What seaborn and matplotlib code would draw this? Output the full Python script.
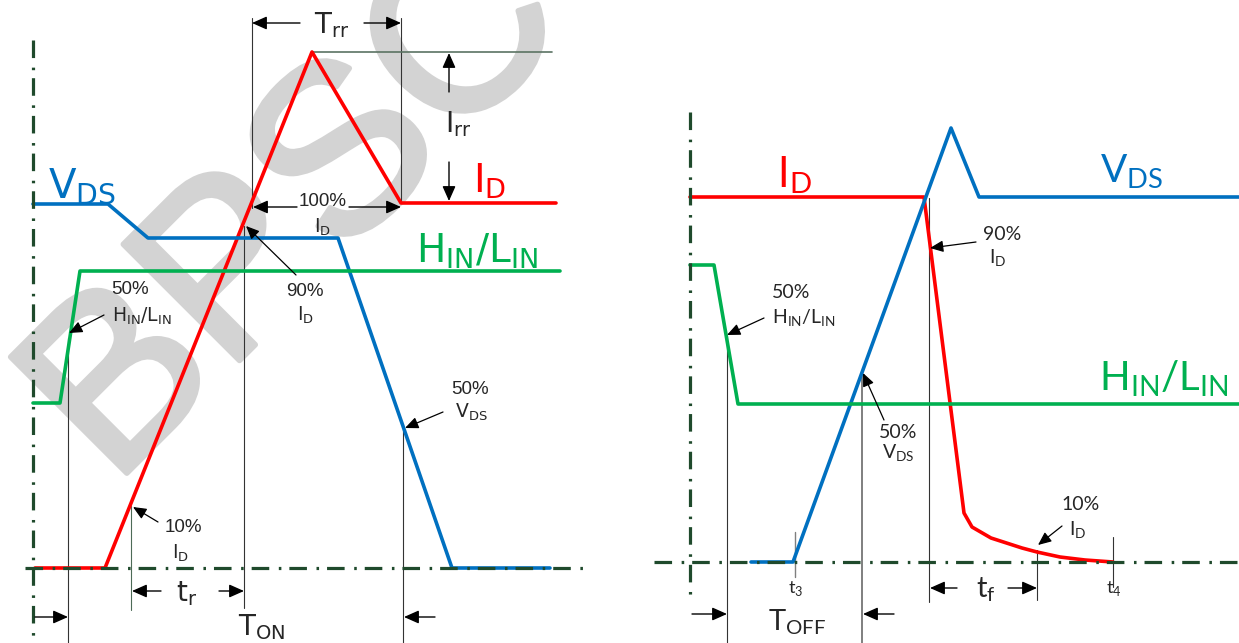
import matplotlib
matplotlib.use('Agg')
import matplotlib.pyplot as plt
import matplotlib.patheffects as pe
import seaborn as sns

# waveform corner points (pixels, y grows downwards)
on_id_x = [35, 105, 312, 401, 556]
on_id_y = [568, 568, 52, 203, 203]
on_vds_x = [33, 108, 148, 338, 452, 550]
on_vds_y = [204, 204, 238, 238, 568, 568]
on_hin_x = [33, 60, 80, 560]
on_hin_y = [403, 403, 271, 271]

off_id_x = [690, 924, 964, 972, 991, 1022, 1037, 1060, 1085, 1113]
off_id_y = [197, 197, 513, 527, 538, 548, 552, 557, 560, 562]
off_vds_x = [751, 793, 951, 979, 1239]
off_vds_y = [562, 562, 128, 197, 197]
off_hin_x = [690, 714, 738, 1239]
off_hin_y = [265, 265, 404, 404]

# dash-dot reference axes: (x0, y0, x1, y1)
ref_axes = [(33, 40, 33, 640), (25, 568, 590, 568),
            (690, 112, 690, 600), (654, 562, 1239, 562)]

# thin guide lines: (x, y_top, y_bottom, colour, width)
guides = [(68, 338, 643, '#333333', 0.8), (131, 506, 610, '#4d6b57', 0.8),
          (244, 226, 608, '#333333', 0.8), (252, 18, 208, '#333333', 0.8),
          (401, 18, 203, '#333333', 0.8), (403, 427, 643, '#333333', 0.8),
          (727, 336, 643, '#333333', 0.8), (862, 372, 643, '#7f7f7f', 1.4),
          (929, 198, 602, '#333333', 0.8), (795, 532, 577, '#7f7f7f', 1.0),
          (1037, 550, 600, '#333333', 0.8), (1113, 537, 587, '#333333', 0.8)]

# dimension arrows: (tail, head)
dim_arrows = [((300, 23), (252, 23)), ((364, 23), (401, 23)),
              ((297, 207), (253, 207)), ((349, 207), (401, 207)),
              ((449, 92), (449, 53)), ((449, 162), (449, 201)),
              ((35, 617), (68, 617)), ((435, 617), (404, 617)),
              ((161, 591), (132, 591)), ((219, 591), (244, 591)),
              ((692, 614), (727, 614)), ((894, 614), (863, 614)),
              ((957, 588), (930, 588)), ((1008, 588), (1037, 588))]

# pointer arrows of the percentage notes: (tail, head)
note_arrows = [((104, 315), (69, 333)), ((296, 275), (246, 226)),
               ((158, 522), (133, 507)), ((443, 412), (405, 428)),
               ((764, 318), (727, 335)), ((884, 420), (863, 373)),
               ((976, 242), (930, 248)), ((1062, 526), (1038, 545))]

RED, BLUE, GREEN = '#ff0000', '#0070c0', '#00b050'
DARK = '#1f4a2c'
WATER = '#d3d3d3'

sns.set_style('white')
plt.rcParams['font.family'] = ['Liberation Sans Narrow', 'Liberation Sans', 'DejaVu Sans']
plt.rcParams['mathtext.fontset'] = 'custom'
plt.rcParams['mathtext.rm'] = 'Liberation Sans Narrow'
plt.rcParams['mathtext.sf'] = 'Lato'

fig = plt.figure(figsize=(12.39, 6.43), dpi=100)
ax = fig.add_axes([0, 0, 1, 1])
ax.set_xlim(0, 1239)
ax.set_ylim(643, 0)
ax.axis('off')

# watermark
ax.text(113, 487, 'BPSC', rotation=45, fontsize=172, color=WATER,
        family='Liberation Sans', ha='left', va='baseline',
        rotation_mode='anchor', zorder=0, clip_on=True,
        path_effects=[pe.withStroke(linewidth=4, foreground=WATER)])

for x0, y0, x1, y1 in ref_axes:
    ax.plot([x0, x1], [y0, y1], color=DARK, lw=2.3,
            linestyle=(0, (5.5, 3, 0.8, 2.5)), zorder=4)

for x, yt, yb, c, w in guides:
    ax.plot([x, x], [yt, yb], color=c, lw=w, zorder=2)

# recovery current peak level
ax.plot([312, 552], [52, 52], color='#5b7363', lw=1.2, zorder=2)

waves = [(on_id_x, on_id_y, RED), (on_vds_x, on_vds_y, BLUE),
         (on_hin_x, on_hin_y, GREEN), (off_id_x, off_id_y, RED),
         (off_vds_x, off_vds_y, BLUE), (off_hin_x, off_hin_y, GREEN)]
for xs, ys, c in waves:
    sns.lineplot(x=xs, y=ys, ax=ax, color=c, lw=2.6, sort=False,
                 estimator=None, zorder=3)

for tail, head in dim_arrows:
    ax.annotate('', xy=head, xytext=tail, zorder=5,
                arrowprops=dict(arrowstyle='-|>,head_length=0.9,head_width=0.4',
                                color='black', lw=1, shrinkA=0, shrinkB=0))
for tail, head in note_arrows:
    ax.annotate('', xy=head, xytext=tail, zorder=5,
                arrowprops=dict(arrowstyle='-|>,head_length=0.8,head_width=0.35',
                                color='black', lw=0.9, shrinkA=0, shrinkB=0))

# big signal names
ax.text(48, 197, r'$\mathrm{V}_{\mathrm{DS}}$', fontsize=29, color=BLUE, va='baseline')
ax.text(473, 193, r'$\mathrm{I}_{\mathrm{D}}$', fontsize=28, color=RED, va='baseline')
ax.text(416, 263, r'$\mathrm{H}_{\mathrm{IN}}\mathrm{/L}_{\mathrm{IN}}$', fontsize=28,
        color=GREEN, va='baseline')
ax.text(777, 187, r'$\mathsf{I}_{\mathsf{D}}$', fontsize=30, color=RED, va='baseline')
ax.text(1100, 183, r'$\mathsf{V}_{\mathsf{DS}}$', fontsize=28, color=BLUE, va='baseline')
ax.text(1099, 390, r'$\mathsf{H}_{\mathsf{IN}}\mathsf{/L}_{\mathsf{IN}}$', fontsize=29,
        color=GREEN, va='baseline')

# timing names
ax.text(314, 33, r'$\mathrm{T}_{\mathrm{rr}}$', fontsize=20, va='baseline')
ax.text(445, 132, r'$\mathrm{I}_{\mathrm{rr}}$', fontsize=20, va='baseline')
ax.text(238, 635, r'$\mathrm{T}_{\mathrm{ON}}$', fontsize=20, va='baseline')
ax.text(176, 601, r'$\mathrm{t}_{\mathrm{r}}$', fontsize=20, va='baseline')
ax.text(768, 630, r'$\mathsf{T}_{\mathsf{OFF}}$', fontsize=21, va='baseline')
ax.text(976, 597, r'$\mathsf{t}_{\mathsf{f}}$', fontsize=21, va='baseline')
ax.text(796, 588, r'$\mathsf{t}_{\mathsf{3}}$', fontsize=13, ha='center', va='center')
ax.text(1114, 588, r'$\mathsf{t}_{\mathsf{4}}$', fontsize=13, ha='center', va='center')

# percentage notes
left_notes = [(130, 290, '50%'), (323, 202, '100%'), (305, 292, '90%'),
              (183, 528, '10%'), (470, 390, '50%')]
for x, y, s in left_notes:
    ax.text(x, y, s, fontsize=13.5, ha='center', va='center', zorder=6)
ax.text(112, 316, r'$\mathrm{H}_{\mathrm{IN}}\mathrm{/L}_{\mathrm{IN}}$', fontsize=13.5, va='center')
ax.text(322, 227, r'$\mathrm{I}_{\mathrm{D}}$', fontsize=13.5, ha='center', va='center')
ax.text(305, 315, r'$\mathrm{I}_{\mathrm{D}}$', fontsize=13.5, ha='center', va='center')
ax.text(180, 553, r'$\mathrm{I}_{\mathrm{D}}$', fontsize=13.5, ha='center', va='center')
ax.text(471, 412, r'$\mathrm{V}_{\mathrm{DS}}$', fontsize=13.5, ha='center', va='center')

right_notes = [(1002, 234, '90%'), (791, 293, '50%'), (898, 432, '50%'), (1081, 505, '10%')]
for x, y, s in right_notes:
    ax.text(x, y, s, fontsize=14, family='Lato', ha='center', va='center')
ax.text(998, 258, r'$\mathsf{I}_{\mathsf{D}}$', fontsize=14, ha='center', va='center')
ax.text(772, 318, r'$\mathsf{H}_{\mathsf{IN}}\mathsf{/L}_{\mathsf{IN}}$', fontsize=14, va='center')
ax.text(898, 453, r'$\mathsf{V}_{\mathsf{DS}}$', fontsize=14, ha='center', va='center')
ax.text(1078, 530, r'$\mathsf{I}_{\mathsf{D}}$', fontsize=14, ha='center', va='center')

fig.savefig('out.png', dpi=100)
